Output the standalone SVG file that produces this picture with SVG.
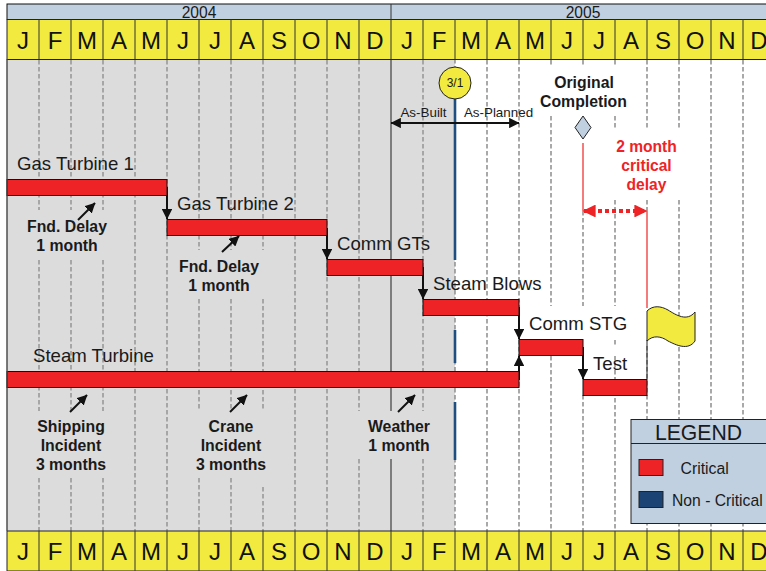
<svg xmlns="http://www.w3.org/2000/svg" width="766" height="571" viewBox="0 0 766 571">
<style>
text{font-family:"Liberation Sans",Arial,sans-serif;fill:#1a1a1a}
.m{font-size:24px;text-anchor:middle;fill:#111}
.y{font-size:15.6px;text-anchor:middle}
.l{font-size:18.6px}
.b{font-size:15.8px;font-weight:bold;text-anchor:middle}
.rt{fill:#ee2326;font-size:15.6px;font-weight:bold;text-anchor:middle}
.r{fill:#ee2326;stroke:#111;stroke-width:1}
.g{stroke:#a0a0a0;stroke-width:1.8;stroke-dasharray:4.5 2.5;fill:none}
.c{stroke:#111;stroke-width:2;fill:none}
</style>
<defs>
<marker id="a" viewBox="0 0 10 10" refX="9.500" refY="5" markerWidth="5.200" markerHeight="5.200" orient="auto-start-reverse"><path d="M0 0L10 5L0 10z" fill="#111"/></marker>
<marker id="ar" viewBox="0 0 10 10" refX="9" refY="5" markerWidth="3.400" markerHeight="3.400" orient="auto-start-reverse"><path d="M0 0L10 5L0 10z" fill="#ee2326"/></marker>
<g id="monthsrow"><path d="M7 0H775V40H7z" fill="#f2ea3e" stroke="#222"/>
<path d="M39 0V40M71 0V40M103 0V40M135 0V40M167 0V40M199 0V40M231 0V40M263 0V40M295 0V40M327 0V40M359 0V40M391 0V40M423 0V40M455 0V40M487 0V40M519 0V40M551 0V40M583 0V40M615 0V40M647 0V40M679 0V40M711 0V40M743 0V40" stroke="#333" fill="none"/>
<g><text class="m" x="23" y="29">J</text><text class="m" x="55" y="29">F</text><text class="m" x="87" y="29">M</text><text class="m" x="119" y="29">A</text><text class="m" x="151" y="29">M</text><text class="m" x="183" y="29">J</text><text class="m" x="215" y="29">J</text><text class="m" x="247" y="29">A</text><text class="m" x="279" y="29">S</text><text class="m" x="311" y="29">O</text><text class="m" x="343" y="29">N</text><text class="m" x="375" y="29">D</text><text class="m" x="407" y="29">J</text><text class="m" x="439" y="29">F</text><text class="m" x="471" y="29">M</text><text class="m" x="503" y="29">A</text><text class="m" x="535" y="29">M</text><text class="m" x="567" y="29">J</text><text class="m" x="599" y="29">J</text><text class="m" x="631" y="29">A</text><text class="m" x="663" y="29">S</text><text class="m" x="695" y="29">O</text><text class="m" x="727" y="29">N</text><text class="m" x="759" y="29">D</text></g></g>
</defs>
<rect width="766" height="571" fill="#fff"/>
<rect x="7" y="59" width="448" height="472" fill="#dcdcdc"/>
<path class="g" d="M39 60V210M39 260V411M39 478V531M71 60V210M71 260V411M71 478V531M103 60V210M103 260V411M103 478V531M135 60V531M167 60V531M199 60V250M199 299V411M199 478V531M231 60V250M231 299V411M231 478V531M263 60V250M263 299V411M263 487V531M295 60V531M327 60V531M359 60V411M359 459V531M423 60V411M423 459V531M487 60V531M519 60V531M551 60V66M551 116V306M551 356V531M583 60V66M583 211V306M583 395V531M615 60V67M615 116V130M615 200V306M615 340V347M615 356V531M647 60V130M647 200V211M647 346V531M679 60V130M679 200V531M711 60V531M743 60V531"/>
<path d="M391 59V411M391 459V531" stroke="#555" stroke-width="1.4" fill="none"/>
<path d="M455 59V531" stroke="#888" stroke-width="1.4" stroke-dasharray="4.500 2.500" fill="none"/>
<path d="M455 98V260M455 330V363M455 402V460" stroke="#1f4e80" stroke-width="2.6" fill="none"/>
<g id="connectors">
<path class="c" d="M167 187V219" marker-end="url(#a)"/>
<path class="c" d="M327 228V259" marker-end="url(#a)"/>
<path class="c" d="M423 267V299" marker-end="url(#a)"/>
<path class="c" d="M519 307V339" marker-end="url(#a)"/>
<path class="c" d="M519 380V356" marker-end="url(#a)"/>
<path class="c" d="M583 347V379" marker-end="url(#a)"/>
<path class="c" d="M391 123H519" marker-start="url(#a)" marker-end="url(#a)"/>
<path class="c" d="M78 220L95 203" marker-end="url(#a)"/>
<path class="c" d="M222 252L239 236" marker-end="url(#a)"/>
<path class="c" d="M70 412L87 395" marker-end="url(#a)"/>
<path class="c" d="M230 412L247 395" marker-end="url(#a)"/>
<path class="c" d="M398 412L415 395" marker-end="url(#a)"/>
<path d="M583 143V211" stroke="#ee2326" stroke-width="1.2" fill="none"/>
<path d="M647 211V308" stroke="#ee2326" stroke-width="1.2" fill="none"/>
<path d="M647 340V379" stroke="#222" stroke-width="1" fill="none"/>
<path d="M584 211H646" stroke="#ee2326" stroke-width="3.8" stroke-dasharray="4 3" fill="none" marker-start="url(#ar)" marker-end="url(#ar)"/>
</g>
<g id="bars">
<g id="gt1"><rect class="r" x="7" y="179.5" width="160" height="16"/><text class="l" x="17" y="170">Gas Turbine 1</text></g>
<g id="gt2"><rect class="r" x="167" y="219.5" width="160" height="16"/><text class="l" x="177" y="210">Gas Turbine 2</text></g>
<g id="commgt"><rect class="r" x="327" y="259.5" width="96" height="16"/><text class="l" x="337" y="250">Comm GTs</text></g>
<g id="blows"><rect class="r" x="423" y="299.5" width="96" height="16"/><text class="l" x="433" y="290">Steam Blows</text></g>
<g id="commstg"><rect class="r" x="519" y="339.5" width="64" height="16"/><text class="l" x="529" y="330">Comm STG</text></g>
<g id="test"><rect class="r" x="583" y="379.5" width="64" height="16"/><text class="l" x="593" y="370">Test</text></g>
<g id="st"><rect class="r" x="7" y="371.5" width="512" height="16"/><text class="l" x="33" y="362">Steam Turbine</text></g>
</g>
<g id="notes">
<text class="b" x="67" y="232">Fnd. Delay</text><text class="b" x="67" y="251">1 month</text>
<text class="b" x="219" y="272">Fnd. Delay</text><text class="b" x="219" y="291">1 month</text>
<text class="b" x="71" y="432">Shipping</text><text class="b" x="71" y="451">Incident</text><text class="b" x="71" y="470">3 months</text>
<text class="b" x="231" y="432">Crane</text><text class="b" x="231" y="451">Incident</text><text class="b" x="231" y="470">3 months</text>
<text class="b" x="399" y="432">Weather</text><text class="b" x="399" y="451">1 month</text>
</g>
<g id="datemark"><circle cx="455" cy="83" r="16" fill="#f2ea3e" stroke="#222"/><text x="455" y="87" font-size="12" text-anchor="middle">3/1</text></g>
<g id="split"><text x="423.500" y="117" font-size="13.400" text-anchor="middle">As-Built</text><text x="498.500" y="117" font-size="13.400" text-anchor="middle">As-Planned</text></g>
<g id="orig"><text class="b" x="584" y="88">Original</text><text class="b" x="583.500" y="107">Completion</text><path d="M583 116L591 127.500L583 139L575 127.500z" fill="#c0d0e0" stroke="#222"/></g>
<g id="delay"><text class="rt" x="646.500" y="152">2 month</text><text class="rt" x="646.500" y="171">critical</text><text class="rt" x="646.500" y="190">delay</text></g>
<g id="flag"><path d="M647 311C653 305 661 306 668 310C676 315 687 322 695 312V341C688 351 676 345 668 341C661 336 653 335 647 341z" fill="#f2ea3e" stroke="#222"/></g>
<g id="legend"><rect x="631" y="419.500" width="140" height="104" fill="#c0d0e0" stroke="#222"/><path d="M631 443.500H771" stroke="#222"/><text x="698.500" y="440" font-size="21.200" text-anchor="middle">LEGEND</text>
<rect x="639" y="459.500" width="24" height="16" fill="#ee2326" stroke="#222"/><text x="680.500" y="474" font-size="15.800">Critical</text>
<rect x="639" y="491.500" width="24" height="16" fill="#1b4474" stroke="#222"/><text x="672" y="506" font-size="15.700">Non - Critical</text></g>
<g id="header"><rect x="7" y="4" width="768" height="15.500" fill="#c0d0e0" stroke="#111"/><path d="M391 4V19.500" stroke="#333"/><text class="y" x="199" y="18">2004</text><text class="y" x="583" y="18">2005</text>
<use href="#monthsrow" y="19.500"/></g>
<g id="footer"><use href="#monthsrow" y="531"/></g>
<path d="M7 59V531" stroke="#444" stroke-width="1.4"/>
</svg>
